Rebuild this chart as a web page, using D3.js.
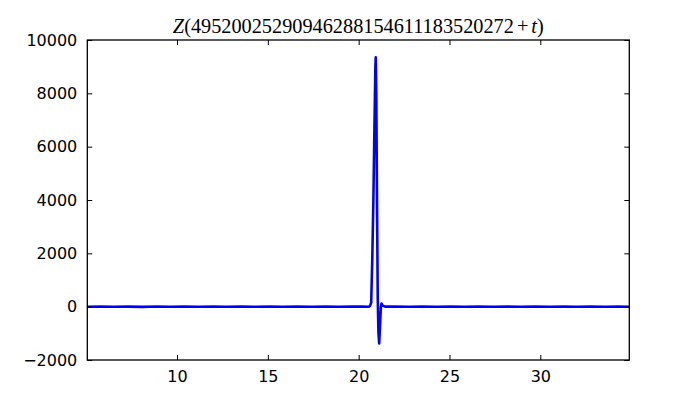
<!DOCTYPE html>
<html>
<head>
<meta charset="utf-8">
<script src="https://cdn.jsdelivr.net/npm/d3@7"></script>
<style>
  body { margin: 0; background: #fff; }
  svg { display: block; }
</style>
</head>
<body>
<script>
'use strict';

{
	let tValues = [5.06, 5.8, 6.5, 7.3, 8.1, 8.9, 9.6, 10.4, 11.2, 12.0, 12.7, 13.5, 14.3, 15.1, 15.8,
		16.6, 17.4, 18.2, 18.9, 19.6, 20.2, 20.55, 20.62, 20.69, 20.75, 20.81, 20.87, 20.92, 20.94,
		20.97, 21.01, 21.05, 21.09, 21.13, 21.17, 21.22, 21.26, 21.32, 21.45, 22.0, 22.8, 23.5, 24.3,
		25.1, 25.8, 26.6, 27.4, 28.2, 28.9, 29.7, 30.5, 31.3, 32.0, 32.8, 33.6, 34.3, 34.9];
	let zValues = [-2, 4, -5, 3, -6, 4, -3, 5, -3, 6, -4, 2, -5, 3, -2,
		4, -3, 3, -4, 2, 3, -2, 20, 150, 1800, 4000, 6800, 9000, 9350,
		8000, 4000, 300, -1000, -1380, -800, -50, 120, 40, 0, 3, -4, 3, -5,
		4, -3, 5, -3, 2, -4, 3, -2, 4, -3, 3, -4, 2, -1];

	let xTicks = [10, 15, 20, 25, 30];
	let yTicks = [-2000, 0, 2000, 4000, 6000, 8000, 10000];

	let margin = {top: 40, right: 70.7, bottom: 40, left: 87.3},
		width = 700 - margin.left - margin.right,
		height = 400 - margin.top - margin.bottom;

	let myData = tValues.map((t, i) => ({t: t, z: zValues[i]}));

	let svg = d3.select("body").append("svg")
		.attr("width", 700)
		.attr("height", 400);

	let g = svg.append("g")
		.attr("transform", `translate(${margin.left},${margin.top})`);

	let x = d3.scaleLinear()
		.domain([5.06, 34.9])
		.range([0, width]);

	let y = d3.scaleLinear()
		.domain([-2000, 10000])
		.range([height, 0]);

	g.append("clipPath").attr("id", "clip")
		.append("rect").attr("width", width).attr("height", height);

	let line = d3.line()
		.x(d => x(d.t))
		.y(d => y(d.z));

	g.append("path")
		.datum(myData)
		.attr("clip-path", "url(#clip)")
		.attr("fill", "none")
		.attr("stroke", "#0000ff")
		.attr("stroke-width", 2.6)
		.attr("stroke-linejoin", "round")
		.attr("d", line);

	let font = "'DejaVu Sans', sans-serif";

	// inward ticks on all four sides, classic style
	let bottom = g.append("g").attr("transform", `translate(0,${height})`)
		.call(d3.axisBottom(x).tickValues(xTicks).tickSizeInner(-5).tickSizeOuter(0).tickPadding(11));
	let top = g.append("g")
		.call(d3.axisTop(x).tickValues(xTicks).tickSizeInner(-5).tickSizeOuter(0).tickFormat(""));
	let left = g.append("g")
		.call(d3.axisLeft(y).tickValues(yTicks).tickSizeInner(-5).tickSizeOuter(0).tickPadding(10)
			.tickFormat(d => d < 0 ? "\u2212" + Math.abs(d) : d));
	let right = g.append("g").attr("transform", `translate(${width},0)`)
		.call(d3.axisRight(y).tickValues(yTicks).tickSizeInner(-5).tickSizeOuter(0).tickFormat(""));

	[bottom, top, left, right].forEach(a => {
		a.select(".domain").remove();
		a.selectAll(".tick line").attr("stroke", "#000").attr("stroke-width", 1);
		a.selectAll("text").attr("font-family", font).attr("font-size", "16px").attr("fill", "#000");
	});

	g.append("rect")
		.attr("width", width)
		.attr("height", height)
		.attr("fill", "none")
		.attr("stroke", "#000")
		.attr("stroke-width", 1.3);

	let title = svg.append("text")
		.attr("x", margin.left + width / 2)
		.attr("y", 33)
		.attr("text-anchor", "middle")
		.attr("font-family", "'Liberation Serif', 'DejaVu Serif', serif")
		.attr("font-size", "20.3px")
		.attr("fill", "#000");
	title.append("tspan").attr("font-style", "italic").text("Z");
	title.append("tspan").text("(49520025290946288154611183520272");
	title.append("tspan").attr("dx", 3).text("+");
	title.append("tspan").attr("dx", 3).attr("font-style", "italic").text("t");
	title.append("tspan").text(")");
}
</script>
</body>
</html>
